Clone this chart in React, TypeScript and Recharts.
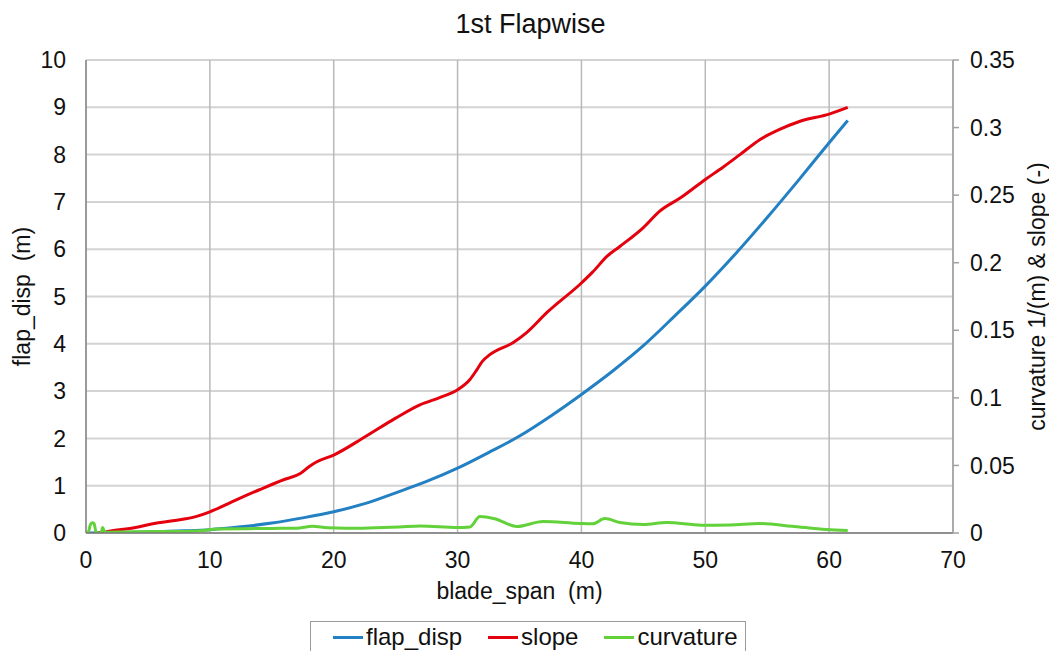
import React from "react";
import {
  LineChart,
  Line,
  XAxis,
  YAxis,
  CartesianGrid,
  Label,
} from "recharts";

// blade span stations (m) and values
const spanFlap = [0, 2, 5, 8, 10, 12.5, 15, 17.5, 20, 22.5, 25, 27.5, 30, 32.5, 35, 37.5, 40, 42.5, 45, 47.5, 50, 52.5, 55, 57.5, 60, 61.5];
const flapDisp = [0, 0.005, 0.02, 0.045, 0.07, 0.13, 0.21, 0.32, 0.45, 0.62, 0.85, 1.09, 1.37, 1.7, 2.05, 2.47, 2.93, 3.42, 3.96, 4.58, 5.22, 5.92, 6.67, 7.45, 8.25, 8.72];

const spanSlope = [1, 2, 4, 5.5, 7, 9, 10, 12, 14, 16, 17.3, 18, 18.6, 20, 22.5, 25, 27, 28.6, 30, 31, 31.5, 32, 32.6, 34.5, 35.6, 37.2, 40, 40.9, 42.1, 43.1, 45, 46.3, 48, 50, 51.4, 52.8, 54.4, 56, 57.6, 60, 61.5];
const slope = [0, 0.0015, 0.004, 0.007, 0.009, 0.0125, 0.0157, 0.024, 0.032, 0.0396, 0.044, 0.049, 0.0525, 0.0577, 0.071, 0.085, 0.095, 0.1003, 0.106, 0.1136, 0.12, 0.127, 0.132, 0.141, 0.1485, 0.163, 0.185, 0.193, 0.205, 0.212, 0.226, 0.238, 0.248, 0.2616, 0.2705, 0.28, 0.291, 0.2986, 0.3045, 0.31, 0.315];

const spanCurv = [0, 0.2, 0.35, 0.5, 0.65, 0.8, 1.0, 1.2, 1.35, 1.5, 1.7, 3, 5, 8, 9.5, 10.5, 13, 15, 17, 18.3, 19.5, 21, 25.3, 27, 30, 31, 31.8, 33, 34.8, 36.9, 39.9, 40.9, 41.9, 43.1, 45, 46.9, 49.7, 52, 54.4, 57, 59.8, 61.5];
const curvature = [0, 0.001, 0.006, 0.0075, 0.007, 0.001, 0, 0, 0.004, 0.001, 0.0005, 0.0008, 0.001, 0.0012, 0.0018, 0.003, 0.0032, 0.0034, 0.0036, 0.005, 0.0038, 0.0035, 0.0045, 0.0052, 0.004, 0.0045, 0.0122, 0.0105, 0.0048, 0.0085, 0.007, 0.0068, 0.0107, 0.0078, 0.0063, 0.0078, 0.0058, 0.006, 0.007, 0.005, 0.0026, 0.0019];

const xTicks = [0, 10, 20, 30, 40, 50, 60, 70];
const leftTicks = [0, 1, 2, 3, 4, 5, 6, 7, 8, 9, 10];
const rightTicks = [0, 0.05, 0.1, 0.15, 0.2, 0.25, 0.3, 0.35];

const FONT = "'Liberation Sans', Arial, sans-serif";
const BLUE = "#2280c3";
const RED = "#e5000d";
const GREEN = "#62d13a";

const toPoints = (xs: number[], ys: number[]) => xs.map((x, i) => ({ x, v: ys[i] }));

const flapData = toPoints(spanFlap, flapDisp);
const slopeData = toPoints(spanSlope, slope);
const curvData = toPoints(spanCurv, curvature);

const tickStyle = { fontSize: 23, fill: "#111", fontFamily: FONT };

const legendItems = [
  { name: "flap_disp", color: BLUE },
  { name: "slope", color: RED },
  { name: "curvature", color: GREEN },
];

export default function App() {
  return (
    <div
      style={{
        position: "absolute",
        left: 0,
        top: 0,
        width: 1049,
        height: 651,
        background: "#fff",
        fontFamily: FONT,
        overflow: "hidden",
      }}
    >
      <div
        style={{
          position: "absolute",
          top: 9,
          left: 6,
          width: 1049,
          textAlign: "center",
          fontSize: 27,
          color: "#111",
        }}
      >
        1st Flapwise
      </div>

      <LineChart
        width={1049}
        height={651}
        margin={{ top: 60, right: 0, bottom: 0, left: 0 }}
      >
        <CartesianGrid
          yAxisId="left"
          vertical={false}
          stroke="#d3d3d3"
          strokeWidth={2}
        />
        <CartesianGrid
          yAxisId="left"
          horizontal={false}
          stroke="#b9b9b9"
          strokeWidth={1.5}
        />
        <XAxis
          dataKey="x"
          type="number"
          domain={[0, 70]}
          ticks={xTicks}
          height={118}
          tickLine={false}
          tickSize={6}
          tickMargin={13}
          axisLine={{ stroke: "#7a7a7a", strokeWidth: 1.5 }}
          tick={tickStyle}
          allowDataOverflow
        >
          <Label
            content={({ viewBox }: any) => (
              <text
                x={viewBox.x + viewBox.width / 2}
                y={viewBox.y + 66}
                textAnchor="middle"
                fontSize={23}
                fontFamily={FONT}
                fill="#111"
                style={{ whiteSpace: "pre" }}
              >
                {"blade_span  (m)"}
              </text>
            )}
          />
        </XAxis>
        <YAxis
          yAxisId="left"
          orientation="left"
          domain={[0, 10]}
          ticks={leftTicks}
          width={86}
          tickLine={false}
          tickSize={6}
          tickMargin={14}
          axisLine={{ stroke: "#8a8a8a", strokeWidth: 1.5 }}
          tick={tickStyle}
          allowDataOverflow
        >
          <Label
            content={({ viewBox }: any) => {
              const cx = 22;
              const cy = viewBox.y + viewBox.height / 2;
              return (
                <text
                  x={cx}
                  y={cy}
                  transform={`rotate(-90, ${cx}, ${cy})`}
                  textAnchor="middle"
                  dominantBaseline="central"
                  fontSize={23}
                  fontFamily={FONT}
                  fill="#111"
                  style={{ whiteSpace: "pre" }}
                >
                  {"flap_disp  (m)"}
                </text>
              );
            }}
          />
        </YAxis>
        <YAxis
          yAxisId="right"
          orientation="right"
          domain={[0, 0.35]}
          ticks={rightTicks}
          width={96}
          tickSize={6}
          tickMargin={11}
          tickLine={{ stroke: "#a0a0a0", strokeWidth: 1.5 }}
          axisLine={{ stroke: "#a0a0a0", strokeWidth: 1.5 }}
          tick={tickStyle}
          tickFormatter={(v: number) => String(+v.toFixed(2))}
          allowDataOverflow
        >
          <Label
            content={({ viewBox }: any) => {
              const cx = viewBox.x + 84;
              const cy = viewBox.y + viewBox.height / 2;
              return (
                <text
                  x={cx}
                  y={cy}
                  transform={`rotate(-90, ${cx}, ${cy})`}
                  textAnchor="middle"
                  dominantBaseline="central"
                  fontSize={23}
                  fontFamily={FONT}
                  fill="#111"
                >
                  curvature 1/(m) &amp; slope (-)
                </text>
              );
            }}
          />
        </YAxis>
        <Line
          yAxisId="left"
          data={flapData}
          dataKey="v"
          name="flap_disp"
          type="monotone"
          stroke={BLUE}
          strokeWidth={3}
          dot={false}
          isAnimationActive={false}
        />
        <Line
          yAxisId="right"
          data={slopeData}
          dataKey="v"
          name="slope"
          type="monotone"
          stroke={RED}
          strokeWidth={3}
          dot={false}
          isAnimationActive={false}
        />
        <Line
          yAxisId="right"
          data={curvData}
          dataKey="v"
          name="curvature"
          type="monotone"
          stroke={GREEN}
          strokeWidth={3}
          dot={false}
          isAnimationActive={false}
        />
      </LineChart>

      {/* Legend */}
      <div
        style={{
          position: "absolute",
          left: 310,
          top: 621,
          width: 436,
          height: 40,
          border: "1.5px solid #9a9a9a",
          background: "#fff",
          display: "flex",
          alignItems: "flex-start",
          paddingLeft: 22,
          paddingTop: 1,
          boxSizing: "border-box",
          fontSize: 24,
          color: "#111",
        }}
      >
        {legendItems.map((item) => (
          <div
            key={item.name}
            style={{ display: "flex", alignItems: "center", marginRight: 26 }}
          >
            <div
              style={{
                width: 30,
                height: 3,
                background: item.color,
                marginRight: 3,
              }}
            />
            <span>{item.name}</span>
          </div>
        ))}
      </div>
    </div>
  );
}
